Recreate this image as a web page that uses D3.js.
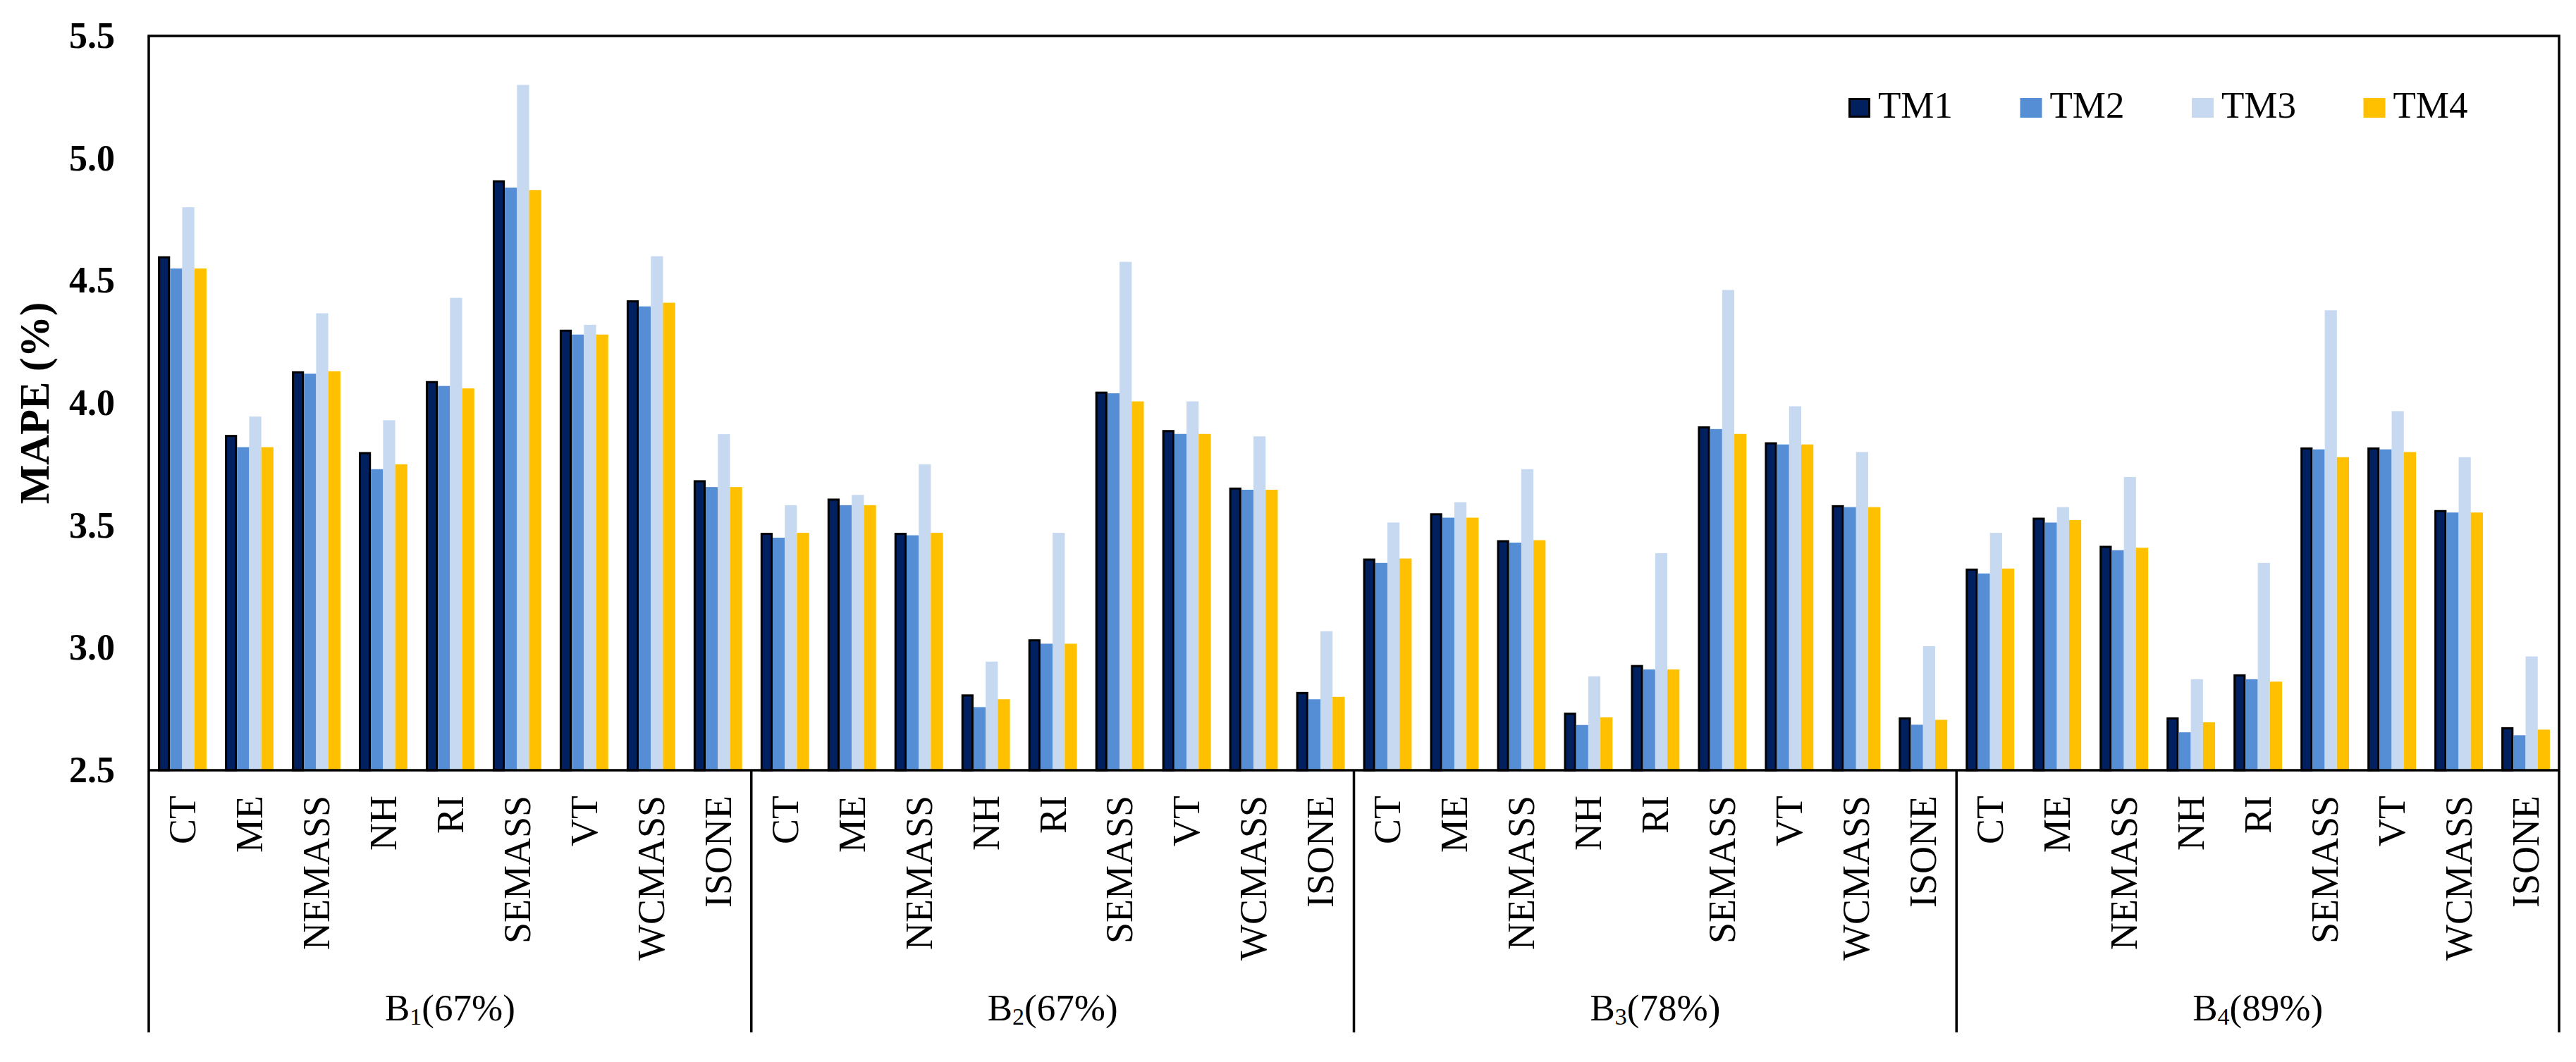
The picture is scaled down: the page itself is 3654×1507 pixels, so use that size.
<!DOCTYPE html>
<html>
<head>
<meta charset="utf-8">
<script src="https://cdn.jsdelivr.net/npm/d3@7/dist/d3.min.js"></script>
<style>
  html, body { margin: 0; padding: 0; background: #fff; }
  svg { display: block; }
  text { font-family: "Liberation Serif", "Times New Roman", serif; fill: #000; }
</style>
</head>
<body>
<svg id="chart" width="3654" height="1507"></svg>
<script>
// ---------- data ----------
const groups = ["B1", "B2", "B3", "B4"];
const groupSub = ["1", "2", "3", "4"];
const groupPct = ["(67%)", "(67%)", "(78%)", "(89%)"];
const categories = ["CT", "ME", "NEMASS", "NH", "RI", "SEMASS", "VT", "WCMASS", "ISONE"];
const series = ["TM1", "TM2", "TM3", "TM4"];
const yTicks = [2.5, 3.0, 3.5, 4.0, 4.5, 5.0, 5.5];

const TM1 = [
  [4.60, 3.87, 4.13, 3.80, 4.09, 4.91, 4.30, 4.42, 3.685],
  [3.47, 3.61, 3.47, 2.81, 3.035, 4.047, 3.89, 3.655, 2.82],
  [3.365, 3.55, 3.44, 2.735, 2.93, 3.905, 3.84, 3.583, 2.716],
  [3.324, 3.532, 3.417, 2.716, 2.892, 3.819, 3.819, 3.563, 2.676]
];
const TM2 = [
  [4.55, 3.82, 4.12, 3.73, 4.07, 4.88, 4.28, 4.395, 3.657],
  [3.45, 3.583, 3.46, 2.758, 3.017, 4.04, 3.874, 3.646, 2.79],
  [3.347, 3.532, 3.43, 2.685, 2.912, 3.894, 3.831, 3.575, 2.686],
  [3.304, 3.512, 3.399, 2.655, 2.872, 3.811, 3.811, 3.553, 2.643]
];
const TM3 = [
  [4.80, 3.945, 4.367, 3.93, 4.43, 5.30, 4.32, 4.60, 3.873],
  [3.583, 3.625, 3.75, 2.944, 3.47, 4.577, 4.007, 3.864, 3.068],
  [3.512, 3.595, 3.73, 2.884, 3.387, 4.462, 3.987, 3.80, 3.007],
  [3.47, 3.575, 3.698, 2.872, 3.347, 4.379, 3.967, 3.779, 2.965]
];
const TM4 = [
  [4.55, 3.82, 4.13, 3.75, 4.06, 4.87, 4.28, 4.41, 3.657],
  [3.47, 3.583, 3.47, 2.79, 3.017, 4.007, 3.874, 3.646, 2.80],
  [3.365, 3.532, 3.44, 2.716, 2.912, 3.874, 3.831, 3.575, 2.706],
  [3.324, 3.522, 3.409, 2.696, 2.862, 3.779, 3.80, 3.553, 2.666]
];
const seriesValues = [TM1, TM2, TM3, TM4];
const colors = ["#002060", "#558ED5", "#C6D9F1", "#FFC000"];

// ---------- layout ----------
const svg = d3.select("#chart");
const plotL = 211, plotR = 3630, plotT = 51, axisY = 1093, bottomY = 1465;

const x0 = d3.scaleBand().domain(groups).range([plotL, plotR]).padding(0);
const x1 = d3.scaleBand().domain(categories).range([0, x0.bandwidth()]).padding(0);
const x2 = d3.scaleBand().domain(series).range([0, x1.bandwidth()]).paddingInner(0).paddingOuter(0.76);
const y = d3.scaleLinear().domain([2.5, 5.5]).range([axisY, plotT]);

// flat records
const records = [];
groups.forEach((g, gi) => categories.forEach((c, ci) => series.forEach((s, si) => {
  records.push({ g, c, s, si, v: seriesValues[si][gi][ci] });
})));

// bars
const bars = svg.append("g");
bars.selectAll("rect").data(records).join("rect")
  .attr("x", d => x0(d.g) + x1(d.c) + x2(d.s) + (d.si === 0 ? 1.5 : 0))
  .attr("y", d => y(d.v) + (d.si === 0 ? 1.5 : 0))
  .attr("width", d => x2.bandwidth() - (d.si === 0 ? 3 : 0))
  .attr("height", d => axisY - y(d.v) - (d.si === 0 ? 1.5 : 0))
  .attr("fill", d => colors[d.si])
  .attr("stroke", d => d.si === 0 ? "#000" : "none")
  .attr("stroke-width", 3);

// y axis labels
const yAxis = d3.axisLeft(y).tickValues(yTicks).tickFormat(d3.format(".1f")).tickSize(0).tickPadding(48);
const ya = svg.append("g").attr("transform", `translate(${plotL},0)`).call(yAxis);
ya.select(".domain").remove();
ya.selectAll("text")
  .attr("font-family", "'Liberation Serif', 'Times New Roman', serif")
  .attr("font-size", 52).attr("font-weight", "bold").attr("fill", "#000");

// y title
svg.append("text")
  .attr("transform", `translate(69,${(plotT + axisY) / 2}) rotate(-90)`)
  .attr("text-anchor", "middle")
  .attr("font-size", 59).attr("font-weight", "bold")
  .text("MAPE (%)");

// frame lines
const frame = svg.append("g").attr("stroke", "#000").attr("stroke-width", 3.5).attr("fill", "none");
frame.append("path").attr("d", `M${plotL},${bottomY}V${plotT}H${plotR}V${bottomY}`);
frame.append("line").attr("x1", plotL).attr("x2", plotR).attr("y1", axisY).attr("y2", axisY);
frame.selectAll("line.sep").data(groups.slice(1)).join("line").attr("class", "sep")
  .attr("x1", d => x0(d)).attr("x2", d => x0(d)).attr("y1", axisY).attr("y2", bottomY);

// category labels
const catRecs = [];
groups.forEach(g => categories.forEach(c => catRecs.push({ g, c })));
svg.append("g").selectAll("text").data(catRecs).join("text")
  .attr("transform", d => `translate(${x0(d.g) + x1(d.c) + x1.bandwidth() / 2},1129) rotate(-90)`)
  .attr("text-anchor", "end")
  .attr("dy", "0.34em")
  .attr("font-size", 54)
  .text(d => d.c);

// group labels
const gl = svg.append("g").selectAll("text").data(groups).join("text")
  .attr("x", d => x0(d) + x0.bandwidth() / 2)
  .attr("y", 1448)
  .attr("text-anchor", "middle")
  .attr("font-size", 53);
gl.append("tspan").text("B");
gl.append("tspan").attr("font-size", 34).attr("dy", 6).text((d, i) => groupSub[i]);
gl.append("tspan").attr("dy", -6).text((d, i) => groupPct[i]);

// legend
const lx = d3.scaleBand().domain(series).range([2622, 2622 + 4 * 243.5]);
const lg = svg.append("g").selectAll("g").data(series).join("g")
  .attr("transform", d => `translate(${lx(d)},0)`);
lg.append("rect")
  .attr("x", (d, i) => i === 0 ? 1.5 : 0).attr("y", (d, i) => i === 0 ? 140.5 : 139)
  .attr("width", (d, i) => i === 0 ? 28 : 31).attr("height", (d, i) => i === 0 ? 25 : 28)
  .attr("fill", (d, i) => colors[i])
  .attr("stroke", (d, i) => i === 0 ? "#000" : "none").attr("stroke-width", 3);
lg.append("text").attr("x", 42).attr("y", 167).attr("font-size", 53).text(d => d);
</script>
</body>
</html>
